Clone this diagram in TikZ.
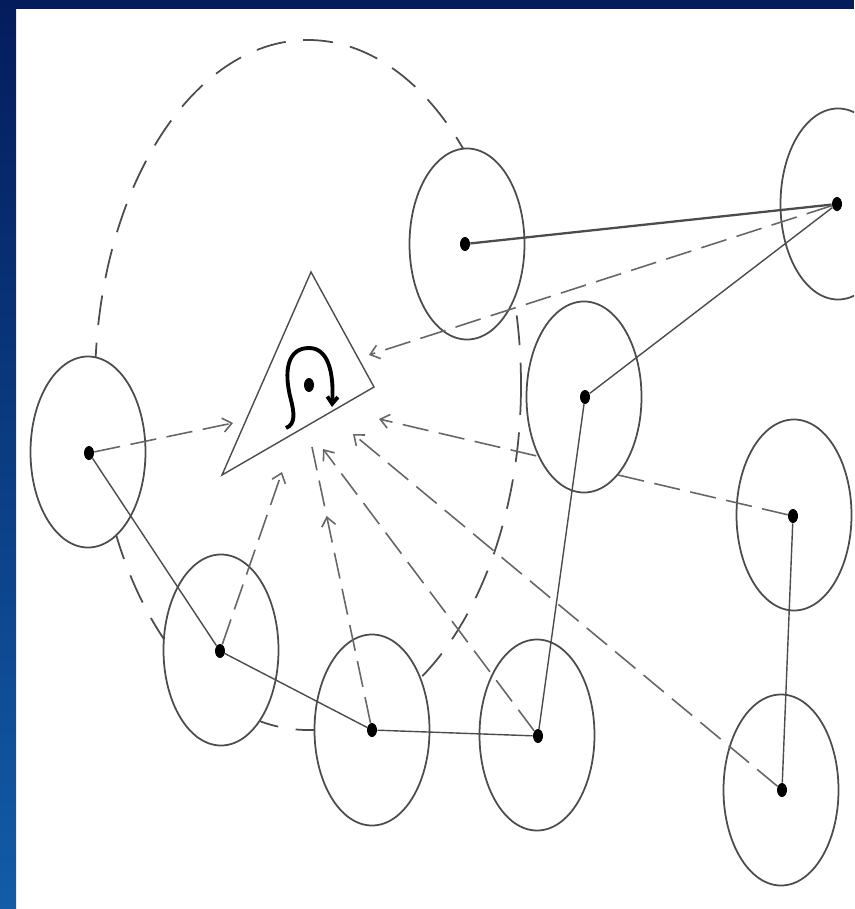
\documentclass[tikz,border=0pt]{standalone}
\usepackage{tikz}
\usetikzlibrary{shapes.geometric,arrows.meta,decorations.markings}

\definecolor{navy}{RGB}{4,28,92}
\definecolor{midblue}{RGB}{0,50,152}
\definecolor{lowblue}{RGB}{18,92,168}
\tikzset{
  cell/.style={draw=black!70, line width=1pt, fill=white, ellipse,
    minimum width=23mm, minimum height=38.2mm, inner sep=0pt},
  hub/.style={fill=black, ellipse, minimum width=2mm, minimum height=2.8mm, inner sep=0pt},
  link/.style={draw=black!70, line width=0.8pt},
  pull/.style={draw=black!60, line width=0.9pt, dash pattern=on 15pt off 6pt,
    -{Straight Barb[length=5pt,width=8pt]}},
}

\begin{document}
\begin{tikzpicture}[x=0.2mm, y=-0.2mm]
  \useasboundingbox (0,0) rectangle (854,909);
  \clip (0,0) rectangle (854,909);

  % big dashed ring
  \draw[black!70, line width=1pt, dash pattern=on 17pt off 10pt]
    (308,385) ellipse [x radius=213, y radius=345];

  % cells and their centres
  \node[cell] (c1) at (88,452) {};
  \node[cell] (c2) at (221,650) {};
  \node[cell] (c3) at (372,730) {};
  \node[cell] (c4) at (537,735) {};
  \node[cell] (c6) at (467,244) {};
  \node[cell] (c7) at (838,204) {};
  \node[cell] (c8) at (794,515) {};
  \node[cell] (c9) at (781,790) {};
  \node[hub] (h8) at (793,516) {};

  % the triangle
  \coordinate (apex) at (311,272);
  \coordinate (rcorner) at (374,387);
  \coordinate (lcorner) at (222,475);
  \draw[link] (apex) -- (rcorner) -- (lcorner) -- cycle;
  \node[hub] (h0) at (309,385) {};
  \draw[line width=2.2pt, -{Straight Barb[length=4pt,width=6pt]}]
    (286,428) .. controls (296,424) and (294,412) .. (291,400)
    .. controls (283,370) and (288,348) .. (309,348)
    .. controls (328,348) and (334,372) .. (332,407);

  % arrow ends
  \coordinate (tA) at (233,423);
  \coordinate (tG) at (282,472);
  \coordinate (tH) at (312,447);
  \coordinate (tI) at (323,449);
  \coordinate (tF) at (353,434);
  \coordinate (tE) at (379,419);
  \coordinate (tC) at (369,355);

  \path[pull] (h8) edge (tE);

  \node[cell] (c5) at (584,397) {};

  \node[hub] (h1) at (89,453) {};
  \node[hub] (h2) at (220,651) {};
  \node[hub] (h3) at (372,730) {};
  \node[hub] (h4) at (538,736) {};
  \node[hub] (h5) at (585,397) {};
  \node[hub] (h6) at (465,244) {};
  \node[hub] (h7) at (837,204) {};
  \node[hub] (h9) at (782,790) {};

  % solid links
  \path[link]
  (h1) edge (h2)
  (h2) edge (h3)
  (h3) edge (h4)
  (h4) edge (h5)
  (h5) edge (h7)
  (h8) edge (h9)
  ;
  \path[link, line width=1.3pt] (h6) edge (h7);

  % dashed pulls towards the triangle
  \path[pull]
  (h1) edge (tA)
  (h2) edge (tG)
  (h4) edge (tI)
  (h9) edge (tF)
  (h7) edge (tC)
  ;
  \draw[pull, -, postaction={decorate, decoration={markings,
      mark=at position 0.75 with {\arrow{Straight Barb[length=5pt,width=8pt]}}}}]
    (h3) -- (tH);

  % frame
  \fill[navy] (0,0) rectangle (854,9);
  \shade[top color=navy, middle color=midblue, bottom color=lowblue] (0,0) rectangle (16,909);
\end{tikzpicture}
\end{document}
